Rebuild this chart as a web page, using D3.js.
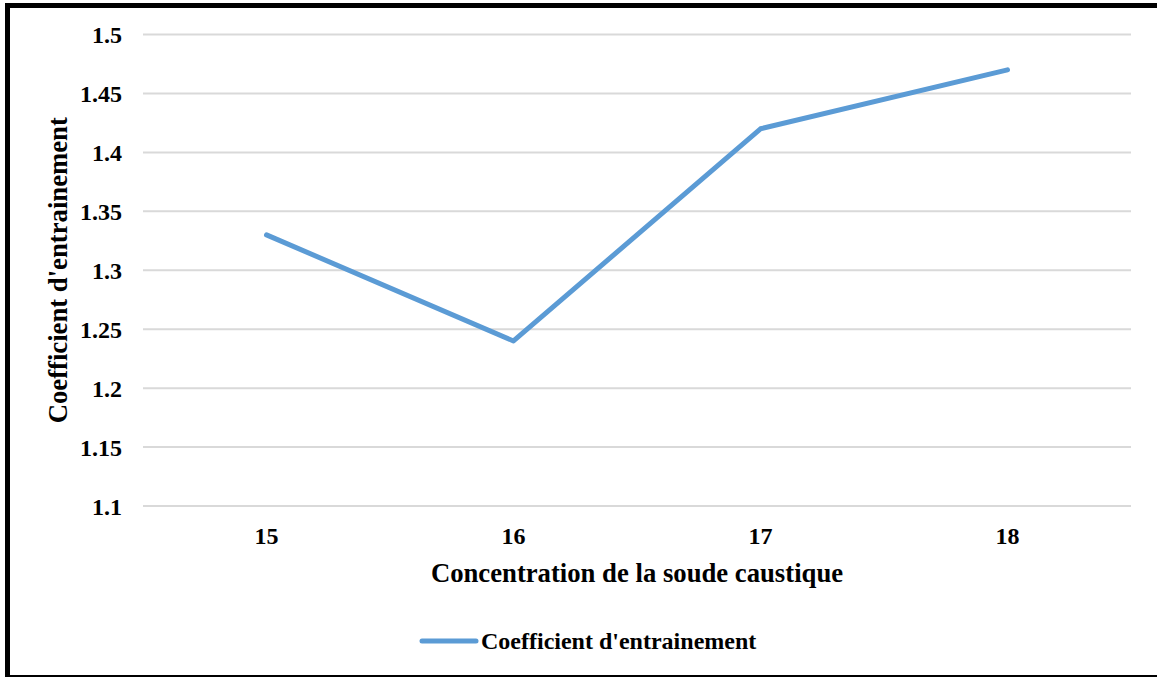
<!DOCTYPE html>
<html>
<head>
<meta charset="utf-8">
<script src="https://cdn.jsdelivr.net/npm/d3@7"></script>
<style>
  html, body { margin: 0; padding: 0; background: #fff; }
  svg { display: block; }
  text { font-family: "Liberation Serif", "Times New Roman", serif; font-weight: bold; fill: #000; }
</style>
</head>
<body>
<svg id="chart" width="1157" height="677"></svg>
<script>
// Concentration de la soude caustique vs coefficient d'entrainement
const categories = ["15", "16", "17", "18"];
const seriesName = "Coefficient d'entrainement";
const values = [1.33, 1.24, 1.42, 1.47];
const yTicks = [1.1, 1.15, 1.2, 1.25, 1.3, 1.35, 1.4, 1.45, 1.5];
const xTitle = "Concentration de la soude caustique";
const yTitle = "Coefficient d'entrainement";

const svg = d3.select("#chart");
const W = 1157, H = 677;
const plot = { left: 143, right: 1131, top: 34.5, bottom: 506 };
const lineColor = "#5b9bd5";

// outer frame
svg.append("rect")
  .attr("x", 7.5).attr("y", 5.5)
  .attr("width", W + 10).attr("height", 672)
  .attr("fill", "none").attr("stroke", "#000").attr("stroke-width", 5);

const x = d3.scaleBand().domain(categories).range([plot.left, plot.right]);
const y = d3.scaleLinear().domain([1.1, 1.5]).range([plot.bottom, plot.top]);

// horizontal gridlines
svg.append("g").selectAll("line").data(yTicks).join("line")
  .attr("x1", plot.left).attr("x2", plot.right)
  .attr("y1", d => y(d)).attr("y2", d => y(d))
  .attr("stroke", "#d9d9d9").attr("stroke-width", 2);

// y axis labels
const yAxis = d3.axisLeft(y).tickValues(yTicks).tickSize(0).tickPadding(0)
  .tickFormat(d => String(+d.toFixed(2)));
const gy = svg.append("g").attr("transform", `translate(122,0)`).call(yAxis);
gy.select(".domain").remove();
gy.selectAll("text")
  .attr("font-family", "Liberation Serif, serif").attr("font-weight", "bold")
  .attr("font-size", 24).attr("fill", "#000").attr("dy", "0.35em");

// x axis labels
const xAxis = d3.axisBottom(x).tickSize(0).tickPadding(0);
const gx = svg.append("g").attr("transform", `translate(0,${plot.bottom})`).call(xAxis);
gx.select(".domain").remove();
gx.selectAll("text")
  .attr("font-family", "Liberation Serif, serif").attr("font-weight", "bold")
  .attr("font-size", 24).attr("fill", "#000").attr("y", 30).attr("dy", "0.35em");

// data line
const line = d3.line()
  .x((d, i) => x(categories[i]) + x.bandwidth() / 2)
  .y(d => y(d));
svg.append("path")
  .datum(values)
  .attr("d", line)
  .attr("fill", "none")
  .attr("stroke", lineColor)
  .attr("stroke-width", 5)
  .attr("stroke-linecap", "round")
  .attr("stroke-linejoin", "round");

// axis titles
svg.append("text")
  .attr("x", (plot.left + plot.right) / 2).attr("y", 573)
  .attr("text-anchor", "middle").attr("dy", "0.35em")
  .attr("font-size", 26.7)
  .text(xTitle);

svg.append("text")
  .attr("transform", `translate(58,${(plot.top + plot.bottom) / 2}) rotate(-90)`)
  .attr("text-anchor", "middle").attr("dy", "0.35em")
  .attr("font-size", 26.7)
  .text(yTitle);

// legend
const legend = svg.append("g").attr("transform", "translate(422,641)");
legend.append("line")
  .attr("x1", 0).attr("x2", 54).attr("y1", 0).attr("y2", 0)
  .attr("stroke", lineColor).attr("stroke-width", 5).attr("stroke-linecap", "round");
legend.append("text")
  .attr("x", 59).attr("y", 0).attr("dy", "0.35em")
  .attr("font-size", 24)
  .text(seriesName);
</script>
</body>
</html>
